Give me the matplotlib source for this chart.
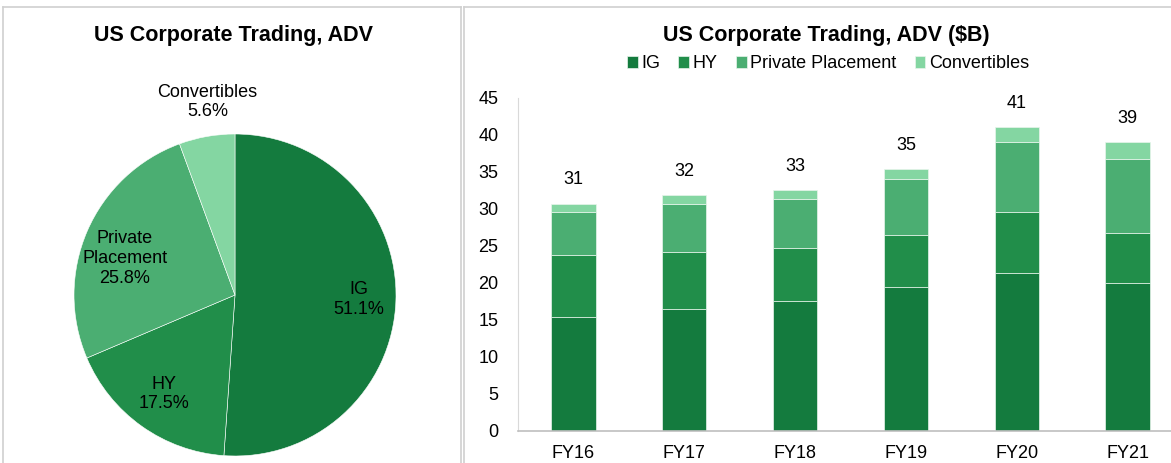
import numpy as np
import matplotlib
matplotlib.use('Agg')
import matplotlib.pyplot as plt
from matplotlib.lines import Line2D

plt.rcParams['font.family'] = ['Liberation Sans', 'DejaVu Sans']

# pie data
pie_labels = ['IG', 'HY', 'Private\nPlacement', 'Convertibles']
pie_share = [51.1, 17.5, 25.8, 5.6]

# bar data ($B)
years = ['FY16', 'FY17', 'FY18', 'FY19', 'FY20', 'FY21']
ig = [15.3, 16.4, 17.5, 19.4, 21.3, 19.9]
hy = [8.4, 7.8, 7.15, 7.0, 8.2, 6.8]
pp = [5.9, 6.4, 6.6, 7.55, 9.5, 10.05]
conv = [1.1, 1.25, 1.3, 1.35, 2.0, 2.25]
series_names = ['IG', 'HY', 'Private Placement', 'Convertibles']

colors = ['#147B3E', '#218E4A', '#4BAE72', '#84D6A2']

W, H = 1171, 463
fig = plt.figure(figsize=(W / 100, H / 100), dpi=100)

# panel borders
border = '#D0D0D0'
for xs, ys in [([3 / W, 461 / W], [1 - 7 / H, 1 - 7 / H]),
               ([3 / W, 3 / W], [0, 1 - 7 / H]),
               ([461 / W, 461 / W], [0, 1 - 7 / H]),
               ([464 / W, 1], [1 - 7 / H, 1 - 7 / H]),
               ([464 / W, 464 / W], [0, 1 - 7 / H])]:
    fig.add_artist(Line2D(xs, ys, color=border, lw=1.2))

# ---- pie ----
cx, cy, r = 235, 295, 161
ax1 = fig.add_axes([(cx - r) / W, (H - cy - r) / H, 2 * r / W, 2 * r / H])
wedges, _ = ax1.pie(pie_share, colors=colors, startangle=90, counterclock=False,
                    wedgeprops=dict(edgecolor='white', linewidth=0.4))
ax1.set_xlim(-1, 1)
ax1.set_ylim(-1, 1)
dists = [0.77, 0.755, 0.72, 1.21]
nudge = [0, 0, 5, -2]  # degrees
for w, lab, val, d, n in zip(wedges, pie_labels, pie_share, dists, nudge):
    ang = np.deg2rad((w.theta1 + w.theta2) / 2 + n)
    ax1.text(d * np.cos(ang), d * np.sin(ang), f'{lab}\n{val:.1f}%',
             ha='center', va='center', fontsize=13, linespacing=1.2,
             clip_on=False)
fig.text(233 / W, 1 - 35 / H, 'US Corporate Trading, ADV', ha='center', va='center',
         fontsize=15.5, fontweight='bold')

# ---- stacked bars ----
x0, x1 = 518, 1183
ax2 = fig.add_axes([x0 / W, (H - 430.7) / H, (x1 - x0) / W, (430.7 - 97.7) / H])
x = np.arange(len(years))
bottom = np.zeros(len(years))
handles = []
for name, vals, c in zip(series_names, [ig, hy, pp, conv], colors):
    b = ax2.bar(x, vals, 0.4, bottom=bottom, color=c, edgecolor='#E8F5EC',
                linewidth=0.5, label=name)
    handles.append(b)
    bottom = bottom + np.array(vals)
for xi, tot in zip(x, bottom):
    ax2.annotate(f'{tot:.0f}', (xi, tot), xytext=(0, 11), textcoords='offset points',
                 ha='center', va='bottom', fontsize=13)
ax2.set_xlim(-0.5, len(years) - 0.5)
ax2.set_ylim(0, 45)
ax2.set_yticks(range(0, 46, 5))
ax2.set_xticks(x)
ax2.set_xticklabels(years)
ax2.tick_params(axis='both', length=0, labelsize=13)
ax2.tick_params(axis='y', pad=14)
ax2.tick_params(axis='x', pad=10)
for s in ['top', 'right']:
    ax2.spines[s].set_visible(False)
ax2.spines['left'].set_color('#D9D9D9')
ax2.spines['bottom'].set_color('#BFBFBF')
ax2.spines['bottom'].set_linewidth(1.2)

fig.text(826 / W, 1 - 35 / H, 'US Corporate Trading, ADV ($B)', ha='center', va='center',
         fontsize=15.5, fontweight='bold')
fig.legend(handles, series_names, loc='center', bbox_to_anchor=(828 / W, 1 - 64 / H),
           ncol=4, frameon=False, fontsize=13, handlelength=0.6, handleheight=0.6,
           handletextpad=0.2, columnspacing=1.0)

fig.savefig('out.png', dpi=100)
